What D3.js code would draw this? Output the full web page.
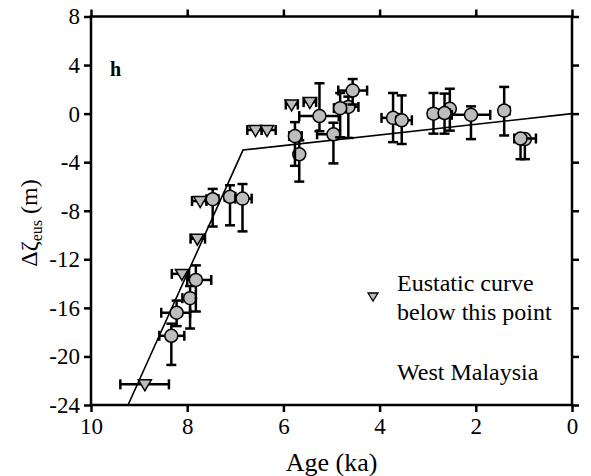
<!DOCTYPE html>
<html>
<head>
<meta charset="utf-8">
<script src="https://cdn.jsdelivr.net/npm/d3@7"></script>
<style>
  body { margin: 0; background: #fff; }
  text { font-family: "Liberation Serif", "DejaVu Serif", serif; fill: #000; }
</style>
</head>
<body>
<svg id="chart" width="591" height="476"></svg>
<script>
// data: age in ka, level in m, error extents
const circlePts = [
  // hidden ones first so the front markers sit on top
  { age: 4.65, z: 0.55, xa: 4.75, xb: 4.44, ya: 1.4, yb: -2.0 },
  { age: 2.54, z: 0.4, xa: null, xb: null, ya: 2.05, yb: -1.4 },
  { age: 0.98, z: -2.1, xa: null, xb: null, ya: -1.9, yb: -3.75 },
  { age: 8.33, z: -18.3, xa: 8.58, xb: 8.06, ya: -17.3, yb: -20.7 },
  { age: 8.22, z: -16.4, xa: 8.54, xb: 7.94, ya: -15.4, yb: -17.5 },
  { age: 7.94, z: -15.2, xa: 8.1, xb: 7.85, ya: -14.2, yb: -17.7 },
  { age: 7.82, z: -13.7, xa: 8.0, xb: 7.5, ya: -12.5, yb: -16.3 },
  { age: 7.47, z: -7.05, xa: 7.6, xb: 7.35, ya: -6.2, yb: -9.3 },
  { age: 7.11, z: -6.85, xa: 7.22, xb: 7.0, ya: -5.9, yb: -9.2 },
  { age: 6.85, z: -7.0, xa: 7.0, xb: 6.66, ya: -5.8, yb: -9.7 },
  { age: 5.67, z: -3.35, xa: null, xb: null, ya: -2.2, yb: -5.6 },
  { age: 5.76, z: -1.85, xa: 5.88, xb: 5.62, ya: -0.7, yb: -4.3 },
  { age: 5.25, z: -0.2, xa: 5.67, xb: 4.85, ya: 2.5, yb: -1.45 },
  { age: 4.96, z: -1.7, xa: 5.3, xb: 4.85, ya: -0.75, yb: -4.1 },
  { age: 4.82, z: 0.45, xa: 4.95, xb: 4.7, ya: 1.7, yb: -1.95 },
  { age: 4.56, z: 1.9, xa: 4.86, xb: 4.26, ya: 2.85, yb: 0.75 },
  { age: 3.72, z: -0.35, xa: 3.96, xb: 3.6, ya: 1.7, yb: -2.35 },
  { age: 3.54, z: -0.55, xa: 3.65, xb: 3.33, ya: 1.5, yb: -2.5 },
  { age: 2.88, z: 0.0, xa: 2.98, xb: 2.78, ya: 1.7, yb: -1.65 },
  { age: 2.65, z: 0.05, xa: 2.75, xb: 2.55, ya: 1.65, yb: -1.65 },
  { age: 2.1, z: -0.1, xa: 2.5, xb: 1.7, ya: 0.6, yb: -2.1 },
  { age: 1.41, z: 0.25, xa: 1.5, xb: 1.3, ya: 2.2, yb: -1.8 },
  { age: 1.07, z: -2.05, xa: 1.2, xb: 0.75, ya: -1.9, yb: -3.75 }
];

const trianglePts = [
  { age: 8.88, z: -22.3, xa: 9.39, xb: 8.38 },
  { age: 8.11, z: -13.2, xa: 8.32, xb: 7.96 },
  { age: 7.79, z: -10.3, xa: 7.93, xb: 7.63 },
  { age: 7.73, z: -7.2, xa: 7.9, xb: 7.6 },
  { age: 6.58, z: -1.35, xa: 6.75, xb: 6.45 },
  { age: 6.34, z: -1.35, xa: 6.45, xb: 6.16 },
  { age: 5.83, z: 0.75, xa: 5.95, xb: 5.7 },
  { age: 5.45, z: 0.95, xa: 5.58, xb: 5.32 }
];

// eustatic curve
const curve = [[9.23, -24], [6.84, -3.0], [0, 0]];

const xTicks = [10, 8, 6, 4, 2, 0];
const yTicks = [8, 4, 0, -4, -8, -12, -16, -20, -24];

const svg = d3.select("#chart");
const mLeft = 91, mRight = 572, mTop = 16.5, mBottom = 405;

const x = d3.scaleLinear().domain([10, 0]).range([mLeft, mRight]);
const y = d3.scaleLinear().domain([8, -24]).range([mTop, mBottom]);

// frame with outward ticks on all sides
svg.append("rect")
    .attr("x", mLeft).attr("y", mTop)
    .attr("width", mRight - mLeft).attr("height", mBottom - mTop)
    .attr("fill", "none").attr("stroke", "#000").attr("stroke-width", 2.5);

const axStyle = g => {
    g.select(".domain").remove();
    g.selectAll(".tick line").attr("stroke", "#000").attr("stroke-width", 2.5);
};

svg.append("g").attr("transform", `translate(0,${mBottom})`)
    .call(d3.axisBottom(x).tickValues(xTicks).tickSize(7).tickPadding(6).tickFormat(d3.format("d")))
    .call(axStyle)
    .selectAll("text").attr("font-size", 23).attr("font-family", "Liberation Serif");

svg.append("g").attr("transform", `translate(0,${mTop})`)
    .call(d3.axisTop(x).tickValues(xTicks).tickSize(7).tickFormat(""))
    .call(axStyle);

svg.append("g").attr("transform", `translate(${mLeft},0)`)
    .call(d3.axisLeft(y).tickValues(yTicks).tickSize(7).tickPadding(4).tickFormat(d => d < 0 ? "-" + Math.abs(d) : d))
    .call(axStyle)
    .selectAll("text").attr("font-size", 23).attr("font-family", "Liberation Serif");

svg.append("g").attr("transform", `translate(${mRight},0)`)
    .call(d3.axisRight(y).tickValues(yTicks).tickSize(7).tickFormat(""))
    .call(axStyle);

// axis titles
svg.append("text")
    .attr("x", (mLeft + mRight) / 2).attr("y", 471)
    .attr("text-anchor", "middle").attr("font-size", 26)
    .text("Age (ka)");

const yl = svg.append("text")
    .attr("transform", "translate(37,223) rotate(-90)")
    .attr("text-anchor", "middle").attr("font-size", 24);
yl.append("tspan").text("Δζ");
yl.append("tspan").attr("font-size", 16).attr("dy", 5).text("eus");
yl.append("tspan").attr("dy", -5).text(" (m)");

svg.append("text")
    .attr("x", 110).attr("y", 76)
    .attr("font-size", 20).attr("font-weight", "bold")
    .text("h");

// curve
svg.append("path")
    .datum(curve)
    .attr("d", d3.line().x(d => x(d[0])).y(d => y(d[1])))
    .attr("fill", "none").attr("stroke", "#000").attr("stroke-width", 1.6);

const capW = 5;
function errorBars(g, d) {
    if (d.xa != null) {
        g.append("line").attr("x1", x(d.xa)).attr("x2", x(d.xb)).attr("y1", y(d.z)).attr("y2", y(d.z));
        [d.xa, d.xb].forEach(v => g.append("line")
            .attr("x1", x(v)).attr("x2", x(v)).attr("y1", y(d.z) - capW).attr("y2", y(d.z) + capW));
    }
    if (d.ya != null) {
        g.append("line").attr("x1", x(d.age)).attr("x2", x(d.age)).attr("y1", y(d.ya)).attr("y2", y(d.yb));
        [d.ya, d.yb].forEach(v => g.append("line")
            .attr("x1", x(d.age) - capW).attr("x2", x(d.age) + capW).attr("y1", y(v)).attr("y2", y(v)));
    }
}

const markFill = "#bdbdbd";

trianglePts.forEach(d => {
    const g = svg.append("g").attr("stroke", "#000").attr("stroke-width", 2.5);
    errorBars(g, d);
    const cx = x(d.age), cy = y(d.z);
    g.append("path")
        .attr("d", `M${cx - 6.5},${cy - 4.5}L${cx + 6.5},${cy - 4.5}L${cx},${cy + 6.5}Z`)
        .attr("fill", markFill).attr("stroke-width", 1.5);
});

circlePts.forEach(d => {
    const g = svg.append("g").attr("stroke", "#000").attr("stroke-width", 2.5);
    errorBars(g, d);
    g.append("circle")
        .attr("cx", x(d.age)).attr("cy", y(d.z)).attr("r", 6.5)
        .attr("fill", markFill).attr("stroke-width", 1.5);
});

// legend
const lx = 373, ly = 297;
svg.append("path")
    .attr("d", `M${lx - 5},${ly - 4}L${lx + 5},${ly - 4}L${lx},${ly + 4}Z`)
    .attr("fill", markFill).attr("stroke", "#000").attr("stroke-width", 1.3);

svg.append("text").attr("x", 397).attr("y", 291).attr("font-size", 24).text("Eustatic curve");
svg.append("text").attr("x", 397).attr("y", 320).attr("font-size", 24).text("below this point");
svg.append("text").attr("x", 397).attr("y", 380).attr("font-size", 24).text("West Malaysia");
</script>
</body>
</html>
